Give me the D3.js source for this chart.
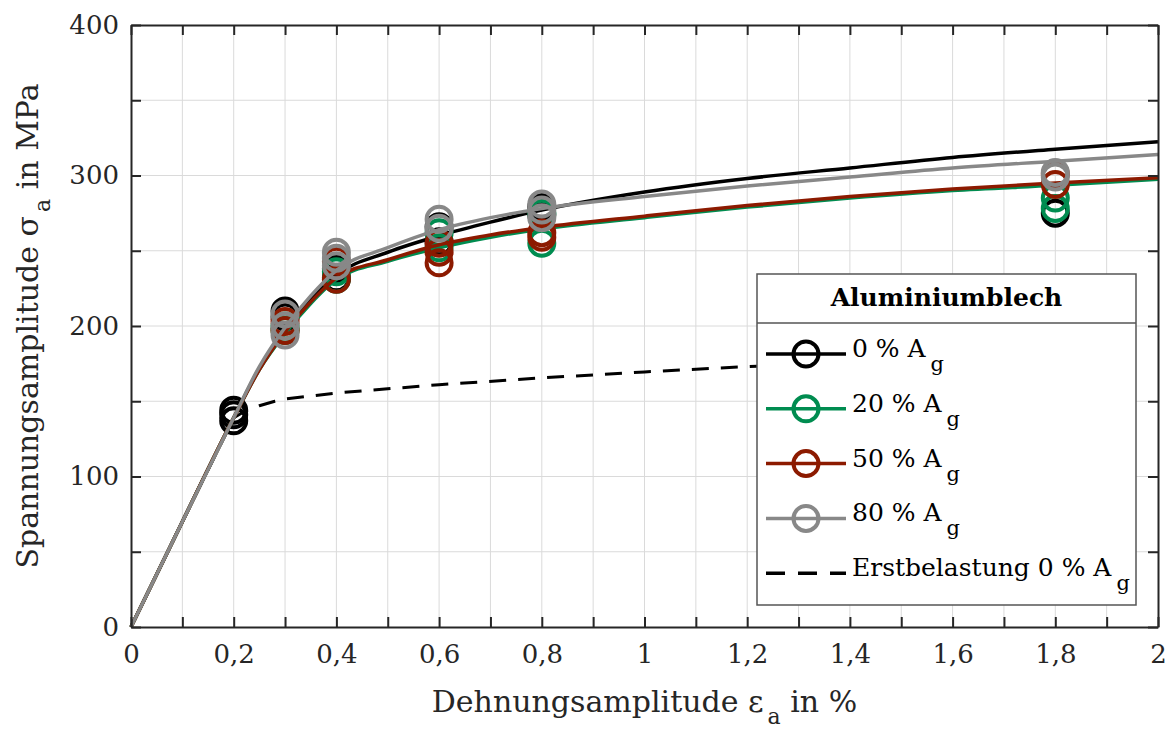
<!DOCTYPE html>
<html>
<head>
<meta charset="utf-8">
<script src="https://cdn.jsdelivr.net/npm/d3@7"></script>
<style>
  body { margin: 0; background: #fff; }
  svg { font-family: "DejaVu Serif", serif; }
</style>
</head>
<body>
<div id="chart"></div>
<script>
var svgWidth = 1169;
var svgHeight = 729;

var margin = { top: 25, right: 11, bottom: 102, left: 131 };
var width = svgWidth - margin.left - margin.right;
var height = svgHeight - margin.top - margin.bottom;

// tick values / labels
var xTicks = [0, 0.2, 0.4, 0.6, 0.8, 1, 1.2, 1.4, 1.6, 1.8, 2];
var xTickLabels = ["0", "0,2", "0,4", "0,6", "0,8", "1", "1,2", "1,4", "1,6", "1,8", "2"];
var yTicks = [0, 100, 200, 300, 400];
var yTickLabels = ["0", "100", "200", "300", "400"];

// fitted curves (strain in %, stress in MPa)
var curveStrain = [0, 0.1, 0.2, 0.25, 0.3, 0.35, 0.4, 0.5, 0.6, 0.7, 0.8, 1.0, 1.2, 1.4, 1.6, 1.8, 2.0];
var curve0  = [0, 70, 139, 172, 197, 218, 234, 249, 260, 269, 277, 289, 298, 305, 312, 317.5, 322.5];
var curve20 = [0, 70, 139, 171, 195, 215, 231, 243, 252, 259, 264.5, 272, 279, 285, 290, 293.5, 297.5];
var curve50 = [0, 70, 139, 171, 196, 216, 232, 244, 254, 260.5, 265.5, 273, 280, 286, 291, 295, 298.5];
var curve80 = [0, 70, 139, 173, 199, 220, 237, 252, 264, 272, 278, 286, 293, 299, 305, 309.5, 314];

// first loading curve
var firstStrain = [0, 0.1, 0.2, 0.22, 0.25, 0.28, 0.3, 0.4, 0.6, 0.8, 1.0, 1.2, 1.4, 1.6, 1.8];
var firstStress = [0, 70, 139, 143, 147, 150, 151.5, 155.5, 161, 165.5, 169.5, 173, 176, 179, 181.5];

// measured points [strain, stress]
var points0 = [[0.2, 144], [0.2, 141], [0.2, 137], [0.3, 210], [0.3, 206], [0.4, 238], [0.4, 232],
  [0.6, 266], [0.6, 256], [0.8, 279], [0.8, 274], [1.8, 275]];
var points20 = [[0.3, 200], [0.3, 197], [0.4, 236], [0.4, 231], [0.6, 262], [0.6, 252],
  [0.8, 275], [0.8, 255], [1.8, 285], [1.8, 278]];
var points50 = [[0.3, 203], [0.3, 197], [0.4, 243], [0.4, 231], [0.6, 255], [0.6, 249], [0.6, 242],
  [0.8, 262], [0.8, 259], [1.8, 301], [1.8, 294]];
var points80 = [[0.3, 208], [0.3, 200], [0.3, 194], [0.4, 249], [0.4, 245], [0.4, 240],
  [0.6, 271], [0.6, 265], [0.8, 281], [0.8, 277], [0.8, 272], [1.8, 302], [1.8, 299]];

var seriesNames = ["0 % A", "20 % A", "50 % A", "80 % A"];
var seriesColors = ["#000000", "#008c50", "#8c1a00", "#888888"];

var series = [
  { name: seriesNames[0], color: seriesColors[0], curve: curve0, points: points0 },
  { name: seriesNames[1], color: seriesColors[1], curve: curve20, points: points20 },
  { name: seriesNames[2], color: seriesColors[2], curve: curve50, points: points50 },
  { name: seriesNames[3], color: seriesColors[3], curve: curve80, points: points80 }
];

var svg = d3.select("#chart")
  .append("svg")
  .attr("width", svgWidth)
  .attr("height", svgHeight);

var chartGroup = svg.append("g")
  .attr("transform", `translate(${margin.left}, ${margin.top})`);

var xScale = d3.scaleLinear().domain([0, 2]).range([0, width]);
var yScale = d3.scaleLinear().domain([0, 400]).range([height, 0]);

var xMinor = d3.range(0, 2.0001, 0.1).map(d => Math.round(d * 10) / 10);
var yMinor = d3.range(0, 401, 50);

// grid
chartGroup.append("g").selectAll("line")
  .data(xMinor.slice(1, -1))
  .enter().append("line")
  .attr("x1", d => xScale(d)).attr("x2", d => xScale(d))
  .attr("y1", 0).attr("y2", height)
  .attr("stroke", "#dadada").attr("stroke-width", 1);

chartGroup.append("g").selectAll("line")
  .data(yMinor.slice(1, -1))
  .enter().append("line")
  .attr("x1", 0).attr("x2", width)
  .attr("y1", d => yScale(d)).attr("y2", d => yScale(d))
  .attr("stroke", "#dadada").attr("stroke-width", 1);

var line = d3.line()
  .x(d => xScale(d[0]))
  .y(d => yScale(d[1]))
  .curve(d3.curveMonotoneX);

// first loading (dashed)
chartGroup.append("path")
  .datum(firstStrain.map((s, i) => [s, firstStress[i]]))
  .attr("d", line.curve(d3.curveLinear))
  .attr("fill", "none")
  .attr("stroke", "#000")
  .attr("stroke-width", 3)
  .attr("stroke-dasharray", "17,12");

line.curve(d3.curveMonotoneX);

series.forEach(function(s) {
  chartGroup.append("path")
    .datum(curveStrain.map((e, i) => [e, s.curve[i]]))
    .attr("d", line)
    .attr("fill", "none")
    .attr("stroke", s.color)
    .attr("stroke-width", 3.5);

  chartGroup.append("g").selectAll("circle")
    .data(s.points)
    .enter().append("circle")
    .attr("cx", d => xScale(d[0]))
    .attr("cy", d => yScale(d[1]))
    .attr("r", 12.5)
    .attr("fill", "none")
    .attr("stroke", s.color)
    .attr("stroke-width", 4);
});

// axes
var axisColor = "#262626";

var bottomAxis = d3.axisBottom(xScale)
  .tickValues(xMinor)
  .tickSizeInner(-10).tickSizeOuter(0).tickPadding(18)
  .tickFormat(d => {
    var i = xTicks.findIndex(t => Math.abs(t - d) < 1e-6);
    return i >= 0 ? xTickLabels[i] : "";
  });

var leftAxis = d3.axisLeft(yScale)
  .tickValues(yMinor)
  .tickSizeInner(-10).tickSizeOuter(0).tickPadding(12)
  .tickFormat(d => {
    var i = yTicks.indexOf(d);
    return i >= 0 ? yTickLabels[i] : "";
  });

var topAxis = d3.axisTop(xScale).tickValues(xMinor).tickSizeInner(-10).tickSizeOuter(0).tickFormat("");
var rightAxis = d3.axisRight(yScale).tickValues(yMinor).tickSizeInner(-10).tickSizeOuter(0).tickFormat("");

var gx = chartGroup.append("g").attr("transform", `translate(0, ${height})`).call(bottomAxis);
var gy = chartGroup.append("g").call(leftAxis);
var gt = chartGroup.append("g").call(topAxis);
var gr = chartGroup.append("g").attr("transform", `translate(${width}, 0)`).call(rightAxis);

[gx, gy, gt, gr].forEach(function(g) {
  g.select(".domain").attr("stroke", axisColor).attr("stroke-width", 2);
  g.selectAll(".tick line").attr("stroke", axisColor).attr("stroke-width", 2);
  g.selectAll(".tick text")
    .attr("fill", axisColor)
    .style("font-family", "DejaVu Serif")
    .style("font-size", "26px");
});

// axis labels
var xLabel = chartGroup.append("text")
  .attr("x", width / 2)
  .attr("y", height + 85)
  .attr("text-anchor", "middle")
  .attr("fill", axisColor)
  .style("font-size", "30px");
xLabel.append("tspan").text("Dehnungsamplitude ε");
xLabel.append("tspan").attr("dx", 4).attr("dy", 12).style("font-size", "22px").text("a");
xLabel.append("tspan").attr("dy", -12).text(" in %");

var yLabel = chartGroup.append("text")
  .attr("transform", `translate(${-93}, ${height / 2}) rotate(-90)`)
  .attr("text-anchor", "middle")
  .attr("fill", axisColor)
  .style("font-size", "30px");
yLabel.append("tspan").text("Spannungsamplitude σ");
yLabel.append("tspan").attr("dx", 4).attr("dy", 12).style("font-size", "22px").text("a");
yLabel.append("tspan").attr("dy", -12).text(" in MPa");

// legend
var legend = svg.append("g").attr("transform", "translate(757, 274)");
var legW = 379, legH = 331, titleH = 49;

legend.append("rect")
  .attr("width", legW).attr("height", legH)
  .attr("fill", "#fff")
  .attr("stroke", "#555").attr("stroke-width", 1.5);
legend.append("line")
  .attr("x1", 0).attr("x2", legW)
  .attr("y1", titleH).attr("y2", titleH)
  .attr("stroke", "#555").attr("stroke-width", 1.5);
legend.append("text")
  .attr("x", legW / 2).attr("y", 32)
  .attr("text-anchor", "middle")
  .style("font-size", "25px").style("font-weight", "bold")
  .text("Aluminiumblech");

var entries = series.map(s => ({ name: s.name, color: s.color, dashed: false }))
  .concat([{ name: "Erstbelastung 0 % A", color: "#000", dashed: true }]);

entries.forEach(function(e, i) {
  var y = 80 + i * 54.8;
  var g = legend.append("g").attr("transform", `translate(0, ${y})`);
  g.append("line")
    .attr("x1", 9).attr("x2", 89)
    .attr("stroke", e.color)
    .attr("stroke-width", 3.5)
    .attr("stroke-dasharray", e.dashed ? "19,13" : null);
  if (!e.dashed) {
    g.append("circle")
      .attr("cx", 49).attr("r", 12.5)
      .attr("fill", "none")
      .attr("stroke", e.color).attr("stroke-width", 4);
  }
  var t = g.append("text").attr("x", 95).attr("y", 3)
    .style("font-size", "25px").attr("fill", "#000");
  t.append("tspan").text(e.name);
  t.append("tspan").attr("dx", 5).attr("dy", 14).style("font-size", "21px").text("g");
});
</script>
</body>
</html>
